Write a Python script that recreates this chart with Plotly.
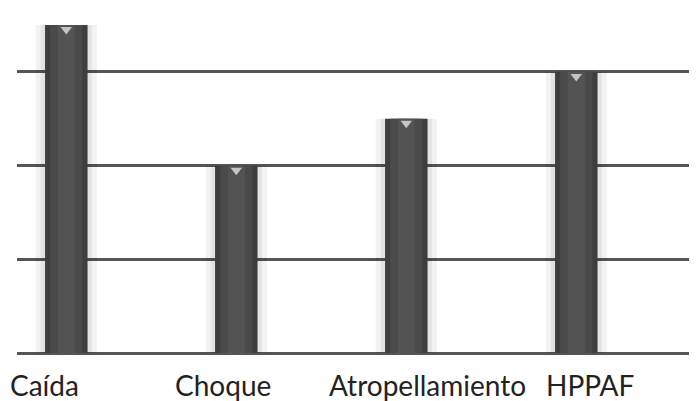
import plotly.graph_objects as go

categories = ["Caída", "Choque", "Atropellamiento", "HPPAF"]
values = [3.5, 2.0, 2.5, 3.0]
label_shifts = [-22, -13, 21, 14]

xs = list(range(len(categories)))

fig = go.Figure()
# soft shadow behind bars
fig.add_trace(go.Bar(x=xs, y=values, width=0.36, marker=dict(color="rgba(0,0,0,0.05)", line=dict(width=0)), hoverinfo="skip"))
fig.add_trace(go.Bar(x=xs, y=values, width=0.30, marker=dict(color="rgba(0,0,0,0.06)", line=dict(width=0)), hoverinfo="skip"))
# main bar
fig.add_trace(go.Bar(x=xs, y=values, width=0.25, marker=dict(color="#3e3e3e", line=dict(width=0))))
# lighter centre strip
fig.add_trace(go.Bar(x=xs, y=values, width=0.19, marker=dict(color="#4a4a4a", line=dict(width=0)), hoverinfo="skip"))
fig.add_trace(go.Bar(x=xs, y=values, width=0.10, marker=dict(color="#535353", line=dict(width=0)), hoverinfo="skip"))
# highlight marker near top
fig.add_trace(go.Scatter(x=xs, y=[v - 0.05 for v in values], mode="markers",
                         marker=dict(symbol="triangle-down", size=10, color="#c4c4c4", line=dict(width=0)),
                         hoverinfo="skip"))

for i, (c, s) in enumerate(zip(categories, label_shifts)):
    fig.add_annotation(x=i, y=0, text=c, showarrow=False, xshift=s, yshift=-32,
                       yanchor="middle", xanchor="center",
                       font=dict(family="Lato", size=28, color="#222222"))

fig.update_layout(
    width=689, height=393,
    barmode="overlay", showlegend=False,
    paper_bgcolor="white", plot_bgcolor="white",
    margin=dict(l=9, r=0, t=0, b=48),
    xaxis=dict(range=[-0.29, 3.71], showgrid=False, zeroline=False, showticklabels=False, showline=False),
    yaxis=dict(range=[0, 3.68], dtick=1, showgrid=True, gridcolor="#555555", gridwidth=3,
               zeroline=True, zerolinecolor="#555555", zerolinewidth=3, showticklabels=False, showline=False),
)
fig.write_html("out.html")
